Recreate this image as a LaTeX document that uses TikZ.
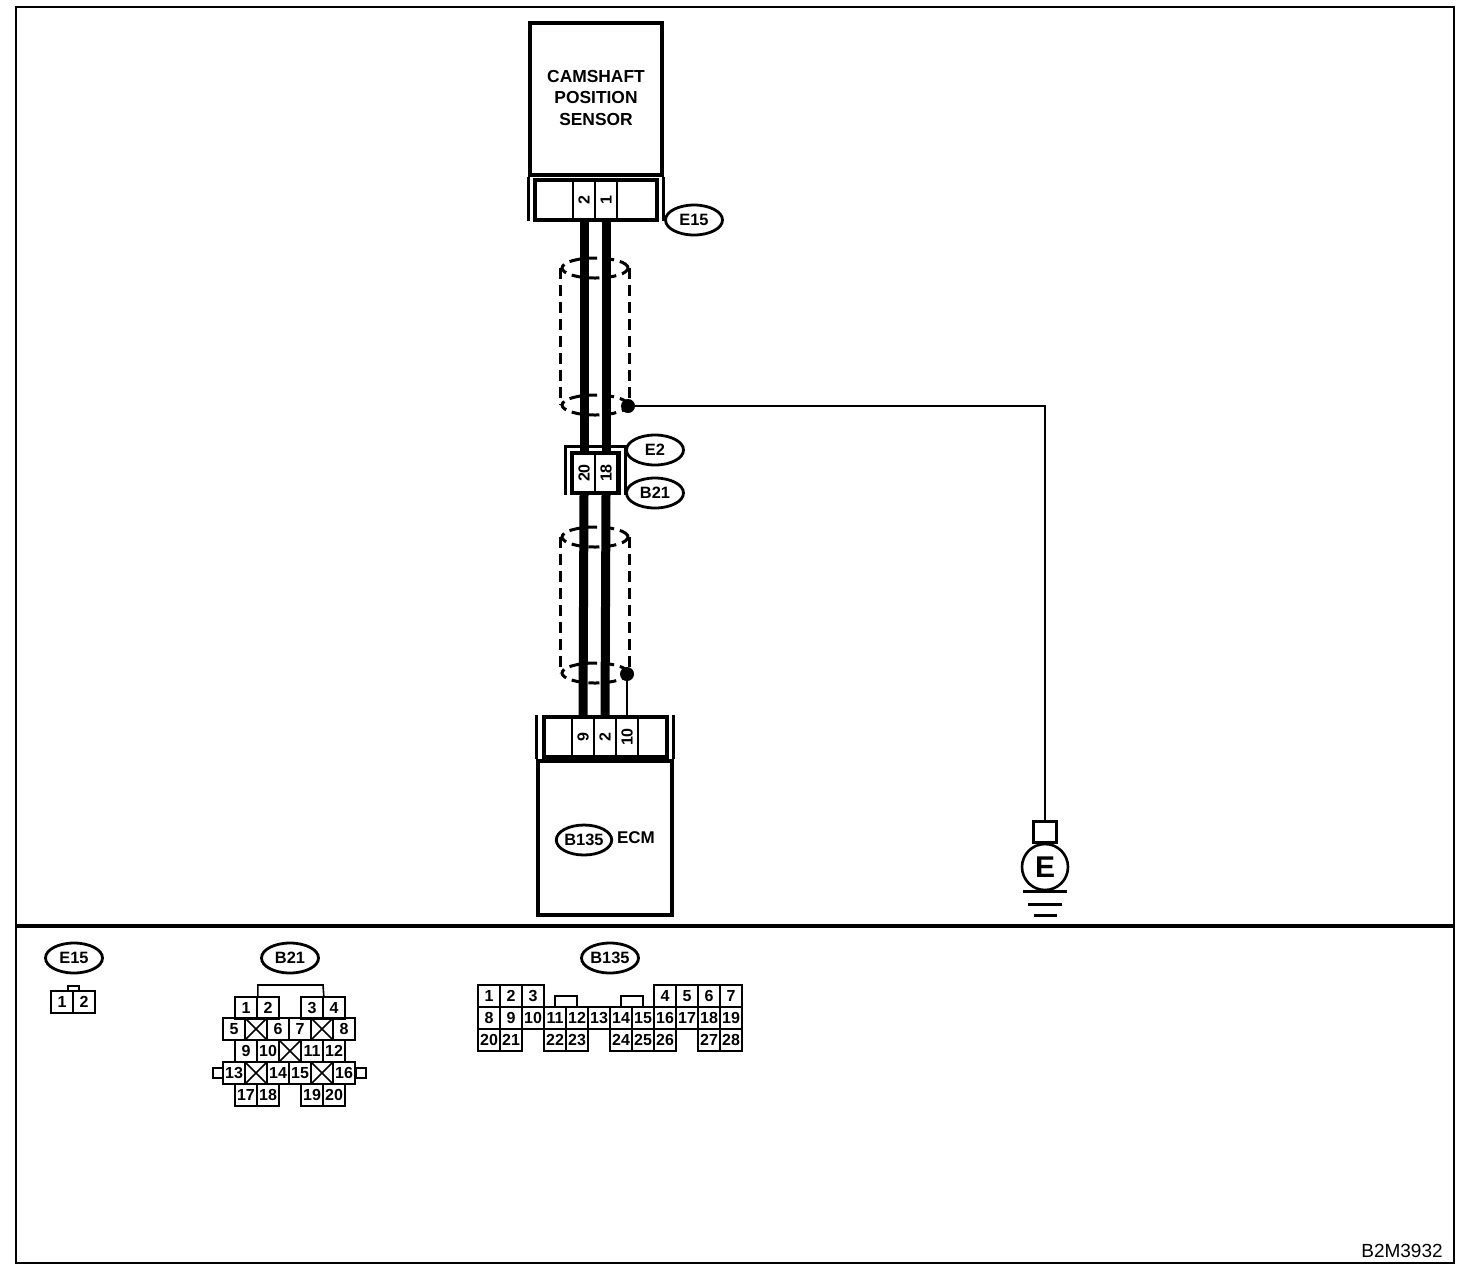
\documentclass[tikz,border=0pt]{standalone}
\usepackage{fontspec}
\setmainfont{Liberation Sans}
\usetikzlibrary{shapes.geometric}
\tikzset{
  tag/.style={ellipse,draw,line width=1.4pt,inner sep=0pt,minimum width=28.5pt,minimum height=15pt,font=\fontsize{8.2}{10}\selectfont\bfseries},
  housing/.style={rectangle,draw,line width=1.6pt,inner sep=0pt},
  vpin/.style={rectangle,draw,line width=1.3pt,inner sep=0pt,minimum width=11pt,minimum height=20pt,label={[rotate=90,inner sep=0pt,font=\fontsize{8}{10}\selectfont\bfseries]center:#1}},
  pin/.style={rectangle,draw,line width=.8pt,inner sep=0pt,minimum width=11pt,minimum height=11pt,font=\fontsize{8}{10}\selectfont\bfseries},
  xpin/.style={pin,path picture={
    \draw[line width=.8pt] (path picture bounding box.north west) -- (path picture bounding box.south east);
    \draw[line width=.8pt] (path picture bounding box.south west) -- (path picture bounding box.north east);}},
  wire/.style={line width=4.5pt},
  thinwire/.style={line width=1.3pt},
  shield/.style={line width=1.5pt,dash pattern=on 5.5pt off 3pt},
  twist/.style={ellipse,draw,shield,inner sep=0pt,minimum width=33pt,minimum height=10pt},
  dot/.style={circle,fill=black,inner sep=0pt,minimum size=7pt}
}
\begin{document}
\begin{tikzpicture}[x=.5pt,y=-.5pt,node distance=11pt]
\useasboundingbox (0,0) rectangle (1472,1276);

% Frame
\draw[line width=1.2pt] (16,7) rectangle (1454,1263);
\draw[line width=1.8pt] (16,926) -- (1454,926);

% Sensor
\node[housing,minimum width=66pt,minimum height=76pt] (sensor) at (596,99) {};
\node[align=center,inner sep=0pt,font=\fontsize{8.7}{10.7}\selectfont\bfseries] (sensortext) at (596,98) {CAMSHAFT\\POSITION\\SENSOR};
\draw[line width=1.6pt] (sensor.south west) -- ++(0,44);
\draw[line width=1.6pt] (sensor.south east) -- ++(0,44);
\node[housing,minimum width=61pt,minimum height=20pt] (sensorconn) at (596,200) {};
\node[vpin=2] (s2) at (584,200) {};
\node[vpin=1] (s1) at (606,200) {};
\node[tag] (e15) at (694,220) {E15};

% Joint connector
\node[housing,minimum width=23.5pt,minimum height=20pt] (jointin) at (595.5,473) {};
\node[vpin=20] (j20) at (584,473) {};
\node[vpin=18] (j18) at (606,473) {};
\draw[line width=1.6pt] ([xshift=-2.5pt]jointin.south west) |- ([yshift=2.5pt]jointin.north) -| ([xshift=2.5pt]jointin.south east);
\node[tag] (e2) at (655,450) {E2};
\node[tag] (b21) at (655,493) {B21};

% ECM
\node[housing,minimum width=67pt,minimum height=77pt] (ecm) at (605,838) {};
\draw[line width=1.6pt] (ecm.north west) -- ++(0,-44);
\draw[line width=1.6pt] (ecm.north east) -- ++(0,-44);
\node[housing,minimum width=61.5pt,minimum height=20pt] (ecmconn) at (605.5,737) {};
\node[vpin=9] (p9) at (583,737) {};
\node[vpin=2] (p2) at (605,737) {};
\node[vpin=10] (p10) at (627,737) {};
\node[tag,minimum width=27pt,minimum height=15pt] (b135) at (584,840) {B135};
\node[font=\fontsize{8.5}{10}\selectfont\bfseries] (ecmtext) at (636,838) {ECM};

% Shields
\node[twist] (twa) at (595,268) {};
\node[twist] (twb) at (595,405) {};
\node[twist] (twc) at (595,537) {};
\node[twist] (twd) at (595,673) {};
\draw[shield] (twa.west) -- (twb.west);
\draw[shield] (twa.east) -- (twb.east);
\draw[shield] (twc.west) -- (twd.west);
\draw[shield] (twc.east) -- (twd.east);
\node[dot] (dota) at (628,406) {};
\node[dot] (dotb) at (627,674) {};

% Wires
\draw[wire] (s2.south) -- (j20.north);
\draw[wire] (s1.south) -- (j18.north);
\draw[wire] (j20.south) -- (p9.north);
\draw[wire] (j18.south) -- (p2.north);
\draw[thinwire] (dotb) -- (p10.north);

% Ground
\node[rectangle,draw,line width=1.3pt,minimum width=11.5pt,minimum height=10.5pt,inner sep=0pt] (gndbox) at (1045,832) {};
\node[circle,draw,line width=1.3pt,minimum size=23pt,inner sep=0pt,font=\fontsize{15}{15}\selectfont\bfseries] (gnd) at (1045,867) {E};
\draw[thinwire] (dota) -| (gndbox);
\draw[thinwire] (gndbox) -- (gnd);
\node[rectangle,fill=black,inner sep=0pt,minimum width=22pt,minimum height=1.5pt] (bara) at (1045,891) {};
\node[rectangle,fill=black,inner sep=0pt,minimum width=17pt,minimum height=1.5pt] (barb) at (1045,904) {};
\node[rectangle,fill=black,inner sep=0pt,minimum width=11.5pt,minimum height=1.5pt] (barc) at (1045,915) {};

% Connector E15
\node[tag] (te15) at (74,958) {E15};
\node[pin,line width=1pt] (a1) at (62,1002) {1};
\node[pin,line width=1pt,right of=a1] (a2) {2};
\draw[line width=.8pt] (68,992) |- (79,986) -- (79,992);

% Connector B21
\node[tag] (tb21) at (290,958) {B21};
\node[pin] (b1) at (246,1008) {1};
\node[pin,right of=b1] (b2) {2};
\node[pin,right of=b2,xshift=11pt] (b3) {3};
\node[pin,right of=b3] (b4) {4};
\node[pin] (b5) at (234,1029) {5};
\node[xpin,right of=b5] (bxa) {};
\node[pin,right of=bxa] (b6) {6};
\node[pin,right of=b6] (b7) {7};
\node[xpin,right of=b7] (bxb) {};
\node[pin,right of=bxb] (b8) {8};
\node[pin] (b9) at (246,1051) {9};
\node[pin,right of=b9] (b10) {10};
\node[xpin,right of=b10] (bxc) {};
\node[pin,right of=bxc] (b11) {11};
\node[pin,right of=b11] (b12) {12};
\node[pin] (b13) at (234,1073) {13};
\node[xpin,right of=b13] (bxd) {};
\node[pin,right of=bxd] (b14) {14};
\node[pin,right of=b14] (b15) {15};
\node[xpin,right of=b15] (bxe) {};
\node[pin,right of=bxe] (b16) {16};
\node[pin] (b17) at (246,1095) {17};
\node[pin,right of=b17] (b18) {18};
\node[pin,right of=b18,xshift=11pt] (b19) {19};
\node[pin,right of=b19] (b20) {20};
\node[rectangle,draw,line width=.8pt,inner sep=0pt,minimum size=5pt] (blugl) at (218,1073) {};
\node[rectangle,draw,line width=.8pt,inner sep=0pt,minimum size=5pt] (blugr) at (361,1073) {};
\draw[line width=.8pt] (b1.north east) |- (323,985) -- (b3.north east);

% Connector B135
\node[tag] (tb135) at (610,958) {B135};
\node[pin] (c1) at (489,996) {1};
\node[pin,right of=c1] (c2) {2};
\node[pin,right of=c2] (c3) {3};
\node[pin] (c8) at (489,1018) {8};
\node[pin,right of=c8] (c9) {9};
\node[pin,right of=c9] (c10) {10};
\node[pin,right of=c10] (c11) {11};
\node[pin,right of=c11] (c12) {12};
\node[pin,right of=c12] (c13) {13};
\node[pin,right of=c13] (c14) {14};
\node[pin,right of=c14] (c15) {15};
\node[pin,right of=c15] (c16) {16};
\node[pin,right of=c16] (c17) {17};
\node[pin,right of=c17] (c18) {18};
\node[pin,right of=c18] (c19) {19};
\node[pin,above of=c16] (c4) {4};
\node[pin,right of=c4] (c5) {5};
\node[pin,right of=c5] (c6) {6};
\node[pin,right of=c6] (c7) {7};
\node[pin,below of=c8] (c20) {20};
\node[pin,right of=c20] (c21) {21};
\node[pin,below of=c11] (c22) {22};
\node[pin,right of=c22] (c23) {23};
\node[pin,below of=c14] (c24) {24};
\node[pin,right of=c24] (c25) {25};
\node[pin,right of=c25] (c26) {26};
\node[pin,below of=c18] (c27) {27};
\node[pin,right of=c27] (c28) {28};
\draw[line width=.8pt] (c11.north) |- ++(22,-10) -- (c12.north);
\draw[line width=.8pt] (c14.north) |- ++(22,-10) -- (c15.north);

\node[font=\fontsize{9.5}{10}\selectfont] (code) at (1402,1251) {B2M3932};
\end{tikzpicture}
\end{document}
